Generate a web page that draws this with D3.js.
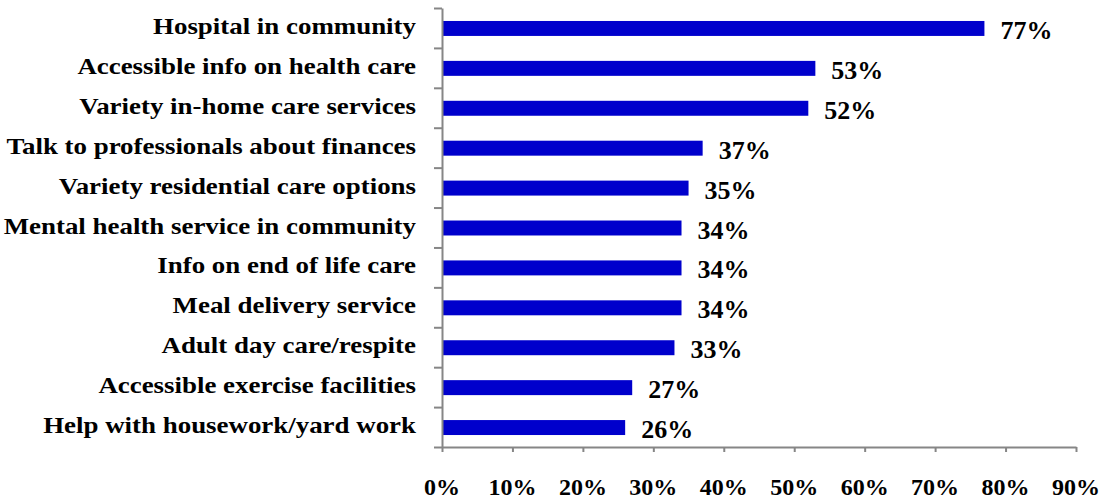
<!DOCTYPE html>
<html>
<head>
<meta charset="utf-8">
<script src="https://cdn.jsdelivr.net/npm/d3@7"></script>
<style>
  body { margin: 0; background: #fff; }
  .axis path, .axis line { stroke: #868686; stroke-width: 2; }
</style>
</head>
<body>
<div class="chart"></div>
<script>
var categories = [
  "Hospital in community",
  "Accessible info on health care",
  "Variety in-home care services",
  "Talk to professionals about finances",
  "Variety residential care options",
  "Mental health service in community",
  "Info on end of life care",
  "Meal delivery service",
  "Adult day care/respite",
  "Accessible exercise facilities",
  "Help with housework/yard work"
];
var values = [77, 53, 52, 37, 35, 34, 34, 34, 33, 27, 26];
var xTicks = [0, 10, 20, 30, 40, 50, 60, 70, 80, 90];

var svgWidth = 1105;
var svgHeight = 499;
var margin = { top: 8, left: 442, right: 29, bottom: 52 };
var width = svgWidth - margin.left - margin.right;
var height = svgHeight - margin.top - margin.bottom;
var font = "'Liberation Serif', 'Times New Roman', Times, serif";

var svg = d3.select(".chart")
  .append("svg")
  .attr("width", svgWidth)
  .attr("height", svgHeight);

var chart = svg.append("g")
  .attr("transform", "translate(" + margin.left + "," + margin.top + ")");

var x = d3.scaleLinear().domain([0, 90]).range([0, width]);
var y = d3.scaleBand().domain(categories).range([0, height]).padding(0);
// boundary scale for Excel-style ticks between categories
var yEdge = d3.scaleLinear().domain([0, categories.length]).range([0, height]);

var barH = y.bandwidth() * 0.375;

// bars
chart.selectAll("rect.bar")
  .data(values)
  .enter().append("rect")
  .attr("class", "bar")
  .attr("x", 0)
  .attr("y", function(d, i) { return y(categories[i]) + y.bandwidth() / 2 - barH / 2 + 0.5; })
  .attr("width", function(d) { return x(d); })
  .attr("height", barH)
  .attr("fill", "#0000CC");

// left axis
chart.append("g")
  .attr("class", "axis")
  .call(d3.axisLeft(yEdge).tickValues(d3.range(categories.length + 1)).tickFormat("").tickSize(8).tickSizeOuter(0));

// bottom axis
chart.append("g")
  .attr("class", "axis")
  .attr("transform", "translate(0," + height + ")")
  .call(d3.axisBottom(x).tickValues(xTicks).tickFormat("").tickSize(5).tickSizeOuter(0));

// tick labels
chart.selectAll("text.xlab")
  .data(xTicks)
  .enter().append("text")
  .attr("class", "xlab")
  .attr("x", function(d) { return x(d); })
  .attr("y", height + 48)
  .attr("text-anchor", "middle")
  .style("font-family", font)
  .style("font-weight", "bold")
  .style("font-size", "24px")
  .text(function(d) { return d + "%"; });

// category labels (chart was stretched horizontally)
chart.selectAll("text.cat")
  .data(categories)
  .enter().append("text")
  .attr("class", "cat")
  .attr("transform", function(d) {
    return "translate(-26," + (y(d) + y.bandwidth() / 2 + 6) + ") scale(1.17,1)";
  })
  .attr("text-anchor", "end")
  .style("font-family", font)
  .style("font-weight", "bold")
  .style("font-size", "23px")
  .text(function(d) { return d; });

// value labels
chart.selectAll("text.val")
  .data(values)
  .enter().append("text")
  .attr("class", "val")
  .attr("x", function(d) { return x(d) + 16; })
  .attr("y", function(d, i) { return y(categories[i]) + y.bandwidth() / 2 + 11; })
  .style("font-family", font)
  .style("font-weight", "bold")
  .style("font-size", "26px")
  .text(function(d) { return d + "%"; });
</script>
</body>
</html>
